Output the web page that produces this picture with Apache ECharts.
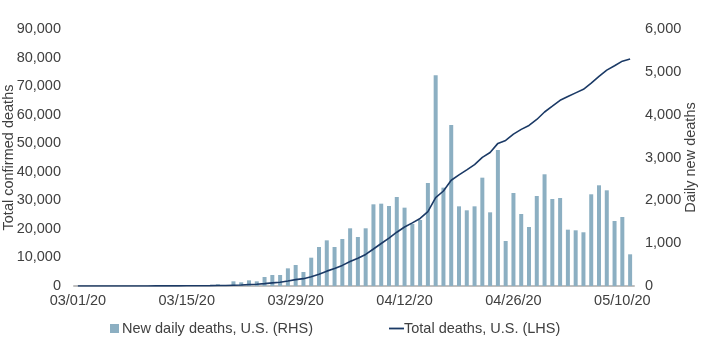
<!DOCTYPE html>
<html>
<head>
<meta charset="utf-8">
<script src="https://cdn.jsdelivr.net/npm/echarts@6/dist/echarts.min.js"></script>
<style>html,body{margin:0;padding:0;background:#fff}#c{width:701px;height:360px}</style>
</head>
<body>
<div id="c"></div>
<script>
var categories = [
  "03/01/20","03/02/20","03/03/20","03/04/20","03/05/20","03/06/20","03/07/20","03/08/20","03/09/20","03/10/20",
  "03/11/20","03/12/20","03/13/20","03/14/20","03/15/20","03/16/20","03/17/20","03/18/20","03/19/20","03/20/20",
  "03/21/20","03/22/20","03/23/20","03/24/20","03/25/20","03/26/20","03/27/20","03/28/20","03/29/20","03/30/20",
  "03/31/20","04/01/20","04/02/20","04/03/20","04/04/20","04/05/20","04/06/20","04/07/20","04/08/20","04/09/20",
  "04/10/20","04/11/20","04/12/20","04/13/20","04/14/20","04/15/20","04/16/20","04/17/20","04/18/20","04/19/20",
  "04/20/20","04/21/20","04/22/20","04/23/20","04/24/20","04/25/20","04/26/20","04/27/20","04/28/20","04/29/20",
  "04/30/20","05/01/20","05/02/20","05/03/20","05/04/20","05/05/20","05/06/20","05/07/20","05/08/20","05/09/20",
  "05/10/20","05/11/20"
];
var dailyDeaths = [
  1,0,1,4,3,2,4,3,4,4,6,6,7,9,12,14,17,23,
  40,20,109,86,132,109,210,257,257,412,490,327,
  661,911,1066,911,1097,1347,1144,1347,1907,1922,
  1868,2078,1829,1450,1541,2405,4920,2296,3760,1860,
  1767,1860,2529,1720,3175,1051,2171,1681,1378,2101,
  2608,2031,2055,1315,1300,1254,2141,2351,2234,1518,
  1611,740
];
var totalDeaths = [
  1,1,2,6,9,11,15,18,22,26,32,38,45,54,66,80,97,120,
  160,180,289,375,507,616,826,1083,1340,1752,2242,2569,
  3230,4141,5207,6118,7215,8562,9706,11053,12960,14882,
  16750,18828,20657,22107,23648,26053,30973,33269,37029,38889,
  40656,42516,45045,46765,49940,50991,53162,54843,56221,58322,
  60930,62961,65016,66331,67631,68885,71026,73377,75611,77129,
  78740,79480
];
var barName = "New daily deaths, U.S. (RHS)";
var lineName = "Total deaths, U.S. (LHS)";

var font = "'Liberation Sans', Arial, sans-serif";
var txt = "#404040";
var fs = 14.5;
function fmt(v){ return Number(v).toLocaleString('en-US'); }

var chart = echarts.init(document.getElementById('c'), null, {renderer:'canvas'});
chart.setOption({
  animation: false,
  textStyle: {fontFamily: font, color: txt},
  grid: {left: 74, right: 67, top: 29, bottom: 74, containLabel: false, outerBoundsMode: 'none'},
  legend: {
    left: 105, top: 316, itemGap: 76, itemWidth: 15, itemHeight: 9,
    textStyle: {fontFamily: font, fontSize: fs, color: txt, padding: [0,0,0,-5]},
    data: [
      {name: barName, icon: 'path://M0,0H9V9H0Z', itemStyle: {color: '#8CAFC2'}},
      {name: lineName, icon: 'path://M0,0H15V1.8H0Z', itemStyle: {color: '#1B3A66'}}
    ]
  },
  xAxis: {
    type: 'category', data: categories, boundaryGap: true,
    axisLine: {lineStyle: {color: '#BFBFBF', width: 2}},
    axisTick: {show: false},
    axisLabel: {interval: 13, margin: 7, fontSize: fs, color: txt, fontFamily: font}
  },
  yAxis: [
    {
      type: 'value', min: 0, max: 90000, interval: 10000, position: 'left',
      name: 'Total confirmed deaths', nameLocation: 'middle', nameRotate: 90, nameGap: 58,
      nameMoveOverlap: false,
      nameTextStyle: {fontSize: fs, color: txt, fontFamily: font},
      axisLine: {show: false}, axisTick: {show: false}, splitLine: {show: false},
      axisLabel: {margin: 13, fontSize: fs, color: txt, fontFamily: font, formatter: fmt}
    },
    {
      type: 'value', min: 0, max: 6000, interval: 1000, position: 'right',
      name: 'Daily new deaths', nameLocation: 'middle', nameRotate: 90, nameGap: 49,
      nameMoveOverlap: false,
      nameTextStyle: {fontSize: fs, color: txt, fontFamily: font},
      axisLine: {show: false}, axisTick: {show: false}, splitLine: {show: false},
      axisLabel: {margin: 11, fontSize: fs, color: txt, fontFamily: font, formatter: fmt}
    }
  ],
  series: [
    {
      name: barName, type: 'bar', yAxisIndex: 1, data: dailyDeaths,
      barWidth: 4, itemStyle: {color: '#8CAFC2'}
    },
    {
      name: lineName, type: 'line', yAxisIndex: 0, data: totalDeaths,
      showSymbol: false, symbol: 'none', lineStyle: {color: '#1B3A66', width: 1.6},
      itemStyle: {color: '#1B3A66'}
    }
  ]
});
</script>
</body>
</html>
